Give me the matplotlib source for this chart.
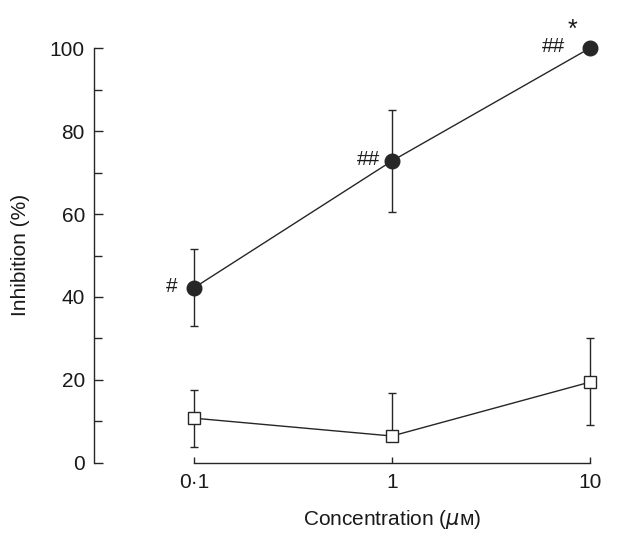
import numpy as np
import matplotlib.pyplot as plt

plt.rcParams['font.family'] = ['Liberation Sans', 'DejaVu Sans']

conc = [0.1, 1, 10]
tick_labels = ['0·1', '1', '10']

filled = [42.2, 72.8, 100]
filled_err = [9.3, 12.2, 0]

open_sq = [10.8, 6.5, 19.5]
open_lo = [6.9, 0, 10.4]
open_hi = [6.9, 10.4, 10.6]

# significance marks next to the filled points
marks = ['#', '##', '##']
mark_dx = [-11.5, -8.6, -18]

ink = '#262626'
txt = '#1a1a1a'

fig = plt.figure(figsize=(6.25, 5.41), dpi=100)
ax = fig.add_axes([0.1504, 0.1442, 0.8256, 0.8054])

ax.errorbar(conc, filled, yerr=filled_err, color=ink, lw=1, marker='o', ms=10.5,
            mfc=ink, mec=ink, capsize=3, elinewidth=1, capthick=1, clip_on=False, zorder=3)
ax.errorbar(conc, open_sq, yerr=[open_lo, open_hi], color=ink, lw=1, marker='s', ms=8.5,
            mfc='white', mec=ink, mew=1, capsize=3, elinewidth=1, capthick=1, clip_on=False, zorder=3)

for x, y, m, dx in zip(conc, filled, marks, mark_dx):
    ax.annotate(m, (x, y), xytext=(dx, 1), textcoords='offset points',
                ha='right', va='center', fontsize=15, color=txt)
ax.annotate('*', (conc[-1], filled[-1]), xytext=(-13, 13), textcoords='offset points',
            ha='center', va='center', fontsize=18, color=txt)

ax.set_xscale('log')
ax.set_xlim(0.0313, 12.6)
ax.set_ylim(0, 105)
ax.set_xticks(conc)
ax.set_xticklabels(tick_labels)
ax.minorticks_off()
ax.set_yticks(np.arange(0, 101, 20))
ax.set_yticks(np.arange(10, 100, 20), minor=True)

for s in ['top', 'right']:
    ax.spines[s].set_visible(False)
ax.spines['left'].set_bounds(0, 100)
ax.spines['bottom'].set_bounds(0.1, 10)
for s in ['left', 'bottom']:
    ax.spines[s].set_color(ink)
    ax.spines[s].set_linewidth(1)

ax.tick_params(axis='y', which='major', direction='in', length=6.5, width=1, color=ink,
               labelsize=15, pad=6.5, labelcolor=txt)
ax.tick_params(axis='y', which='minor', direction='in', length=5.5, width=1, color=ink)
ax.tick_params(axis='x', which='both', direction='in', length=4, width=1, color=ink,
               labelsize=15, pad=7, labelcolor=txt)

# labels centred on the spine bounds, not on the axes box
ax.set_xlabel('Concentration ($\\mathit{\\mu}$ᴍ)', fontsize=15, color=txt, labelpad=12, x=0.5775)
ax.set_ylabel('Inhibition (%)', fontsize=15, color=txt, labelpad=14, y=0.477)

fig.savefig('out.png', dpi=100)
